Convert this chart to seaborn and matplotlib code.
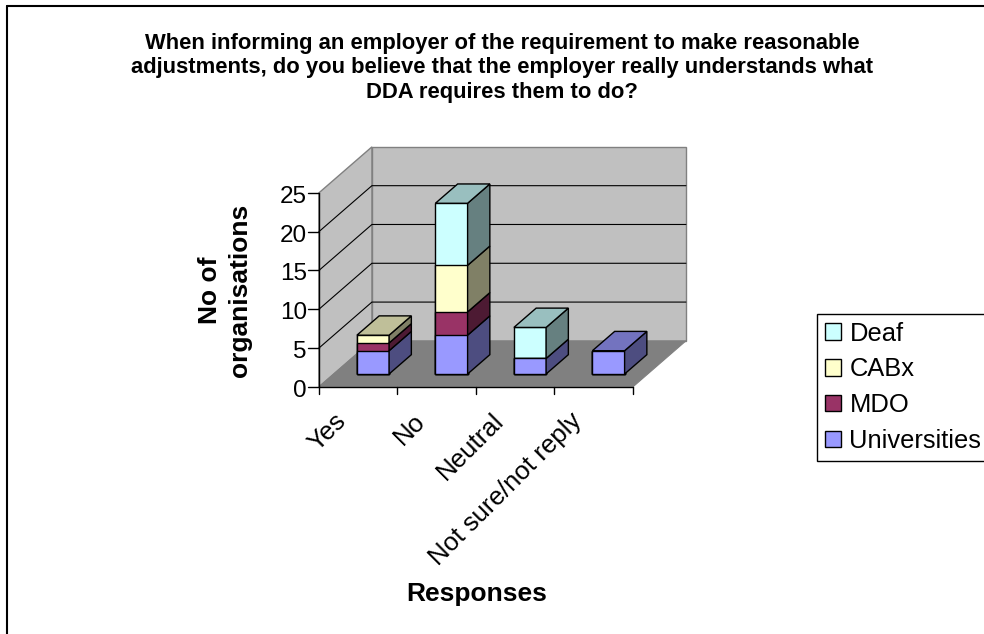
import numpy as np
import matplotlib
matplotlib.use("Agg")
import matplotlib.pyplot as plt
import matplotlib.transforms as mtransforms
from matplotlib.patches import Polygon, Patch
from matplotlib.lines import Line2D
from matplotlib.colors import to_rgb
import seaborn as sns

# ---- data -------------------------------------------------------------
categories = ["Yes", "No", "Neutral", "Not sure/not reply"]
universities = [3, 5, 2, 3]
mdo = [1, 3, 0, 0]
cabx = [1, 6, 0, 0]
deaf = [0, 8, 4, 0]

series_names = ["Universities", "MDO", "CABx", "Deaf"]   # stacking order, bottom first
series_values = [universities, mdo, cabx, deaf]
series_colors = ["#9999FF", "#993366", "#FFFFCC", "#CCFFFF"]

y_ticks = [0, 5, 10, 15, 20, 25]

title = ("When informing an employer of the requirement to make reasonable\n"
         "adjustments, do you believe that the employer really understands what\n"
         "DDA requires them to do?")
x_title = "Responses"
y_title = "No of\norganisations"

# ---- figure -------------------------------------------------------------
W, H, DPI = 984, 634, 100
sns.set_style("white")
plt.rcParams["font.family"] = ["Liberation Sans", "DejaVu Sans"]
plt.rcParams["text.color"] = "black"

fig = plt.figure(figsize=(W / DPI, H / DPI), dpi=DPI)
ax = fig.add_axes([0, 0, 1, 1])

# oblique 3-D box geometry (pixels)
BAR_X0 = 373.0        # centre of first category on the bar front plane
CAT_PX = 78.5         # width of one category
BASE_PY = 374.0       # value 0 on the bar front plane
VAL_PX = 7.76         # pixels per unit
D_FRONT, D_BACK = 0.28, 0.70   # bar front / back depth fraction
DEPTH_PX = (53.0, 46.0)        # full depth offset (right, up)
DX = DEPTH_PX[0] / CAT_PX
DY = DEPTH_PX[1] / VAL_PX
BAR_W = 0.41
n_cat = len(categories)
y_max = y_ticks[-1]


def P(x, v, d):
    """Project (category position, value, depth) onto the drawing plane."""
    return (x + (d - D_FRONT) * DX, v + (d - D_FRONT) * DY)


def shade(color, k):
    return tuple(np.array(to_rgb(color)) * k)


x_lo, x_hi = -0.5, n_cat - 0.5

# walls and floor
left_wall = [P(x_lo, 0, 0), P(x_lo, 0, 1), P(x_lo, y_max, 1), P(x_lo, y_max, 0)]
back_wall = [P(x_lo, 0, 1), P(x_hi, 0, 1), P(x_hi, y_max, 1), P(x_lo, y_max, 1)]
floor = [P(x_lo, 0, 0), P(x_hi, 0, 0), P(x_hi, 0, 1), P(x_lo, 0, 1)]
ax.add_patch(Polygon(back_wall, closed=True, facecolor="#C0C0C0",
                     edgecolor="#808080", linewidth=1.0, zorder=0))
ax.add_patch(Polygon(left_wall, closed=True, facecolor="#C0C0C0",
                     edgecolor="#808080", linewidth=1.0, zorder=0))
ax.add_patch(Polygon(floor, closed=True, facecolor="#808080",
                     edgecolor="#808080", linewidth=0.8, zorder=1))

# gridlines on the left and back walls
for v in y_ticks[1:-1]:
    pts = [P(x_lo, v, 0), P(x_lo, v, 1), P(x_hi, v, 1)]
    ax.plot([p[0] for p in pts], [p[1] for p in pts], color="black",
            linewidth=0.8, zorder=1)

# stacked front faces via seaborn (cumulative totals drawn top series first)
cum = np.cumsum(np.array(series_values, dtype=float), axis=0)
for k in range(len(series_names) - 1, -1, -1):
    sns.barplot(x=categories, y=cum[k], color=series_colors[k], saturation=1,
                width=BAR_W, edgecolor="black", linewidth=1.0, errorbar=None,
                ax=ax, zorder=3)

# side and top faces of each stacked block
for i in range(n_cat):
    xr = i + BAR_W / 2
    xl = i - BAR_W / 2
    bottom = 0.0
    top_color = None
    for k in range(len(series_names)):
        val = series_values[k][i]
        if val <= 0:
            continue
        top = bottom + val
        side = [P(xr, bottom, D_FRONT), P(xr, bottom, D_BACK),
                P(xr, top, D_BACK), P(xr, top, D_FRONT)]
        ax.add_patch(Polygon(side, closed=True,
                             facecolor=shade(series_colors[k], 0.5),
                             edgecolor="black", linewidth=1.0, zorder=3))
        top_color = series_colors[k]
        bottom = top
    if top_color is not None:
        lid = [P(xl, bottom, D_FRONT), P(xr, bottom, D_FRONT),
               P(xr, bottom, D_BACK), P(xl, bottom, D_BACK)]
        ax.add_patch(Polygon(lid, closed=True, facecolor=shade(top_color, 0.75),
                             edgecolor="black", linewidth=1.0, zorder=3))

# axis lines and ticks
x0, y0 = P(x_lo, 0, 0)
x1, _ = P(x_hi, 0, 0)
_, ytop = P(x_lo, y_max, 0)
ax.plot([x0, x0], [y0, ytop], color="black", linewidth=1.0, zorder=4)
ax.plot([x0, x1], [y0, y0], color="black", linewidth=1.0, zorder=4)

tick_len_y = 11 / CAT_PX
tick_len_x = 7 / VAL_PX
ylab_tr = mtransforms.offset_copy(ax.transData, fig=fig, x=-12, y=-4, units="dots")
for v in y_ticks:
    tx, ty = P(x_lo, v, 0)
    ax.plot([tx - tick_len_y, tx], [ty, ty], color="black", linewidth=1.0, zorder=4)
    ax.text(tx, ty, str(v), transform=ylab_tr, ha="right", va="center",
            fontsize=17.5, color="black")

for b in np.arange(x_lo, x_hi + 0.5, 1.0):
    tx, ty = P(b, 0, 0)
    ax.plot([tx, tx], [ty, ty - tick_len_x], color="black", linewidth=1.0, zorder=4)

xlab_tr = mtransforms.offset_copy(ax.transData, fig=fig, x=-24, y=-22, units="dots")
for i, lab in enumerate(categories):
    tx, ty = P(i, 0, 0)
    ax.text(tx, ty, lab, transform=xlab_tr, rotation=45, rotation_mode="anchor",
            ha="right", va="top", fontsize=18.6, color="black")

# data limits tied to the pixel grid
ax.set_xlim((0 - BAR_X0) / CAT_PX, (W - BAR_X0) / CAT_PX)
ax.set_ylim((BASE_PY - H) / VAL_PX, BASE_PY / VAL_PX)
ax.axis("off")

# titles
fig.text(502 / W, 1 - 68 / H, title, ha="center", va="center", fontsize=15.8,
         fontweight="bold", linespacing=1.2, color="black")
fig.text(477 / W, 1 - 594 / H, x_title, ha="center", va="center", fontsize=19,
         fontweight="bold", color="black")
fig.text(225 / W, 1 - 290 / H, y_title, ha="center", va="center", fontsize=19,
         fontweight="bold", rotation=90, linespacing=1.35, multialignment="center",
         color="black")

# legend
handles = [Patch(facecolor=series_colors[k], edgecolor="black", linewidth=1.0)
           for k in range(len(series_names) - 1, -1, -1)]
labels = series_names[::-1]
leg = fig.legend(handles, labels, loc="upper left",
                 bbox_to_anchor=(817 / W, 1 - 314 / H), bbox_transform=fig.transFigure,
                 frameon=True, fancybox=False, framealpha=1, edgecolor="black",
                 fontsize=18.4, handlelength=0.62, handleheight=0.62,
                 handletextpad=0.35, borderpad=0.3, labelspacing=0.46,
                 borderaxespad=0)
leg.get_frame().set_linewidth(1.0)

# outer chart border (left and top edges)
fig.add_artist(Line2D([7 / W, 7 / W], [0, 1 - 6 / H], transform=fig.transFigure,
                      color="black", linewidth=1.5))
fig.add_artist(Line2D([7 / W, 1], [1 - 6 / H, 1 - 6 / H], transform=fig.transFigure,
                      color="black", linewidth=1.5))

fig.savefig("out.png", dpi=DPI)
